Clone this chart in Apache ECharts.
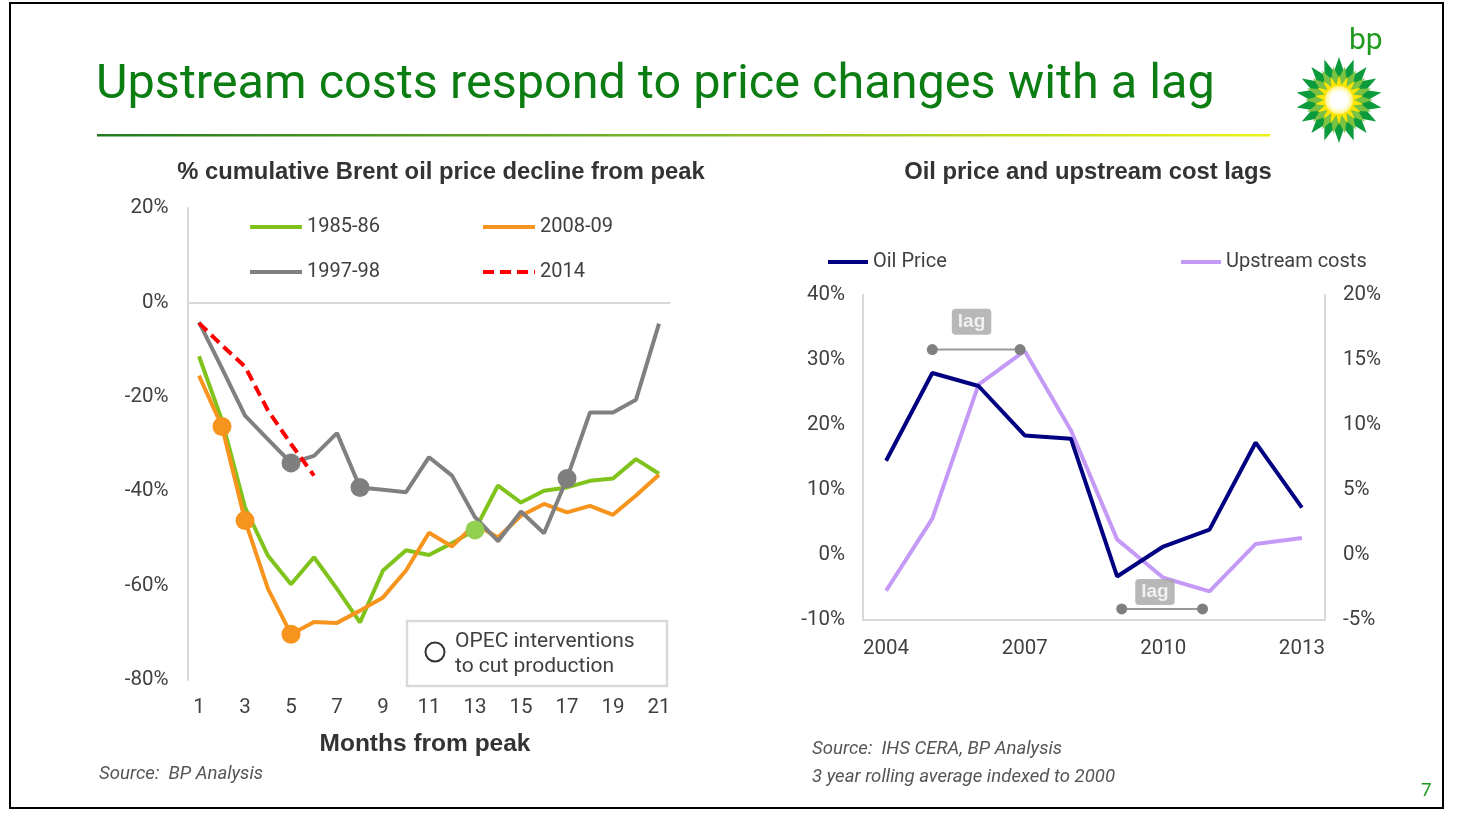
<!DOCTYPE html>
<html>
<head>
<meta charset="utf-8">
<script src="https://cdn.jsdelivr.net/npm/echarts@6/dist/echarts.min.js"></script>
<style>
html, body {margin: 0; padding: 0; background: #fff;}
#main {width: 1461px; height: 816px;}
</style>
</head>
<body>
<div id="main"></div>
<script>
// 左图：从高点起累计跌幅（%）
var months = ["1", "2", "3", "4", "5", "6", "7", "8", "9", "10", "11", "12", "13", "14", "15", "16", "17", "18", "19", "20", "21"];
var brent8586 = [-11.4, -25, -43.4, -53.7, -59.7, -54, -60.7, -67.8, -56.8, -52.5, -53.5, -51, -48.2, -38.8, -42.4, -39.9, -39.2, -37.8, -37.3, -33.2, -36.3];
var brent9798 = [-4.2, -14, -24, -29, -34, -32.5, -27.7, -39.2, -39.7, -40.2, -32.8, -36.7, -45.5, -50.6, -44.3, -48.9, -37.3, -23.3, -23.3, -20.6, -4.5];
var brent0809 = [-15.5, -26.3, -46.2, -60.7, -70.3, -67.7, -67.9, -65.3, -62.5, -56.8, -48.8, -51.7, -47, -49.8, -45.2, -42.7, -44.5, -43.1, -45, -40.9, -36.5];
var brent2014 = [-4.4, -9.1, -13.6, -22.9, -30, -36.7];
// OPEC 减产干预的月份
var opec9798 = [5, 8, 17];
var opec0809 = [2, 3, 5];
var opec8586 = [13];

// 右图：油价与上游成本
var years = ["2004", "2005", "2006", "2007", "2008", "2009", "2010", "2011", "2012", "2013"];
var oilPrice = [14.5, 28, 26, 18.4, 17.9, -3.3, 1.3, 3.9, 17.3, 7.3];
var upstreamCosts = [-2.75, 2.8, 13.1, 15.7, 9.6, 1.2, -1.75, -2.8, 0.85, 1.3];
// lag 标注 [起点年, 终点年, 高度(左轴%)], 文字位置 [年, %]
var lagLines = [[2005, 2006.9, 31.6], [2009.1, 2010.85, -8.3]];
var lagLabels = [[2005.85, 35.9], [2009.82, -5.7]];

var FONT = "Roboto, 'Liberation Sans', sans-serif";
var BOLD = "'Liberation Sans', Arial, sans-serif";
var AXIS = {fontFamily: FONT, fontSize: 20.5, color: "#404040"};
var LEG = {fontFamily: FONT, fontSize: 20, color: "#404040"};

function markers(list, values) {
    return list.map(function (m) {
        return [String(m), values[m - 1]];
    });
}

// bp 标志的星形
function star(cx, cy, n, r1, r2, rot) {
    var pts = [];
    for (var i = 0; i < n * 2; i++) {
        var a = rot + Math.PI * i / n;
        var r = i % 2 == 0 ? r1 : r2;
        pts.push([cx + r * Math.sin(a), cy - r * Math.cos(a)]);
    }
    return pts;
}

var chart = echarts.init(document.getElementById("main"));

var lagSeries = [];
lagLines.forEach(function (l) {
    lagSeries.push({
        type: "line", xAxisIndex: 2, yAxisIndex: 1, silent: true,
        data: [[l[0], l[2]], [l[1], l[2]]],
        symbol: "circle", symbolSize: 11,
        itemStyle: {color: "#7f7f7f"},
        lineStyle: {color: "#9a9a9a", width: 2},
        z: 5
    });
});
lagSeries.push({
    type: "scatter", xAxisIndex: 2, yAxisIndex: 1, silent: true,
    data: lagLabels, symbolSize: 1, itemStyle: {color: "rgba(0,0,0,0)"},
    label: {
        show: true, position: "inside", formatter: "lag",
        backgroundColor: "#a6a6a6", borderRadius: 4, padding: [3, 6, 4, 6],
        color: "#fff", fontWeight: "bold", fontSize: 19, fontFamily: BOLD
    },
    z: 6
});

var legendBase = {padding: 0, itemHeight: 14, textStyle: LEG, itemStyle: {opacity: 0}, lineStyle: {width: 4}};

var option = {
    animation: false,
    grid: [
        {left: 187.5, top: 208, width: 483, height: 472},
        {left: 863, top: 295, width: 462, height: 325}
    ],
    legend: [
        Object.assign({data: ["1985-86", "1997-98"], orient: "vertical", left: 248, top: 217, itemWidth: 52, itemGap: 25}, legendBase),
        Object.assign({data: ["2008-09", "2014"], orient: "vertical", left: 481, top: 217, itemWidth: 52, itemGap: 25}, legendBase),
        Object.assign({data: ["Oil Price"], left: 826, top: 252, itemWidth: 40}, legendBase),
        Object.assign({data: ["Upstream costs"], left: 1179, top: 252, itemWidth: 40}, legendBase)
    ],
    xAxis: [
        {
            gridIndex: 0, type: "category", data: months,
            axisLine: {show: false}, axisTick: {show: false},
            axisLabel: Object.assign({interval: 1, margin: 17}, AXIS)
        },
        {
            gridIndex: 1, type: "category", data: years,
            axisLine: {onZero: false, lineStyle: {color: "#d9d9d9", width: 2}}, axisTick: {show: false},
            axisLabel: Object.assign({interval: 2, margin: 18}, AXIS)
        },
        {gridIndex: 1, type: "value", min: 2003.5, max: 2013.5, show: false}
    ],
    yAxis: [
        {
            gridIndex: 0, type: "value", min: -80, max: 20, interval: 20,
            axisLine: {show: true, lineStyle: {color: "#d9d9d9", width: 2}},
            axisTick: {show: false}, splitLine: {show: false},
            axisLabel: Object.assign({formatter: "{value}%", margin: 19}, AXIS)
        },
        {
            gridIndex: 1, type: "value", min: -10, max: 40, interval: 10, position: "left",
            axisLine: {show: true, lineStyle: {color: "#d9d9d9", width: 2}},
            axisTick: {show: false}, splitLine: {show: false},
            axisLabel: Object.assign({formatter: "{value}%", margin: 18}, AXIS)
        },
        {
            gridIndex: 1, type: "value", min: -5, max: 20, interval: 5, position: "right",
            axisLine: {show: true, lineStyle: {color: "#d9d9d9", width: 2}},
            axisTick: {show: false}, splitLine: {show: false},
            axisLabel: Object.assign({formatter: "{value}%", margin: 18}, AXIS)
        }
    ],
    series: [
        {
            name: "1985-86", type: "line", data: brent8586, symbol: "none",
            lineStyle: {color: "#80c31c", width: 4}, itemStyle: {color: "#80c31c"},
            markLine: {
                silent: true, symbol: "none", label: {show: false},
                lineStyle: {color: "#d9d9d9", width: 2, type: "solid"},
                data: [{yAxis: 0}]
            },
            z: 3
        },
        {
            name: "2008-09", type: "line", data: brent0809, symbol: "none",
            lineStyle: {color: "#f7941d", width: 4}, itemStyle: {color: "#f7941d"}, z: 3
        },
        {
            name: "1997-98", type: "line", data: brent9798, symbol: "none",
            lineStyle: {color: "#808080", width: 4}, itemStyle: {color: "#808080"}, z: 3
        },
        {
            name: "2014", type: "line", data: brent2014, symbol: "none",
            lineStyle: {color: "#ff0000", width: 4, type: [11, 6]}, itemStyle: {color: "#ff0000"}, z: 4
        },
        {type: "scatter", data: markers(opec0809, brent0809), symbolSize: 19, itemStyle: {color: "#f7941d", opacity: 1}, z: 6, silent: true},
        {type: "scatter", data: markers(opec9798, brent9798), symbolSize: 19, itemStyle: {color: "#7f7f7f", opacity: 1}, z: 6, silent: true},
        {type: "scatter", data: markers(opec8586, brent8586), symbolSize: 19, itemStyle: {color: "#92d050", opacity: 1}, z: 6, silent: true},
        {
            name: "Oil Price", type: "line", xAxisIndex: 1, yAxisIndex: 1, data: oilPrice, symbol: "none",
            lineStyle: {color: "#000080", width: 4}, itemStyle: {color: "#000080"}, z: 3
        },
        {
            name: "Upstream costs", type: "line", xAxisIndex: 1, yAxisIndex: 2, data: upstreamCosts, symbol: "none",
            lineStyle: {color: "#c59af7", width: 4}, itemStyle: {color: "#c59af7"}, z: 2
        }
    ].concat(lagSeries),
    graphic: [
        {type: "rect", shape: {x: 10, y: 3, width: 1433, height: 805}, style: {fill: "none", stroke: "#000", lineWidth: 2}, silent: true},
        {type: "text", left: 96, top: 61, style: {text: "Upstream costs respond to price changes with a lag", fill: "#0b7d12", font: "48.6px " + FONT}},
        {
            type: "rect", shape: {x: 97, y: 134, width: 1173, height: 2.5},
            style: {fill: new echarts.graphic.LinearGradient(0, 0, 1, 0, [{offset: 0, color: "#217a1e"}, {offset: 0.5, color: "#7cb82a"}, {offset: 1, color: "#eef21a"}])}
        },
        {type: "polygon", shape: {points: star(1339, 100, 18, 43, 29, 0)}, style: {fill: "#0b9a3c"}},
        {type: "polygon", shape: {points: star(1339, 100, 18, 34, 22, Math.PI / 18)}, style: {fill: "#7cc242"}},
        {type: "polygon", shape: {points: star(1339, 100, 18, 25, 15, 0)}, style: {fill: "#ffe500"}},
        {type: "circle", shape: {cx: 1339, cy: 100, r: 14}, style: {fill: new echarts.graphic.RadialGradient(0.5, 0.5, 0.5, [{offset: 0, color: "#fff"}, {offset: 0.6, color: "#fff"}, {offset: 1, color: "#fff27a"}])}},
        {type: "text", left: 1349, top: 26, style: {text: "bp", fill: "#1f9a1f", font: "30px " + FONT}},
        {type: "text", left: 1421, top: 782, style: {text: "7", fill: "#1f9a1f", font: "19px " + FONT}},
        {type: "text", x: 441, y: 172, style: {text: "% cumulative Brent oil price decline from peak", fill: "#333", font: "bold 23.8px " + BOLD, textAlign: "center", textVerticalAlign: "middle"}},
        {type: "text", x: 1088, y: 172, style: {text: "Oil price and upstream cost lags", fill: "#333", font: "bold 23.8px " + BOLD, textAlign: "center", textVerticalAlign: "middle"}},
        {type: "text", x: 425, y: 744, style: {text: "Months from peak", fill: "#333", font: "bold 24.5px " + BOLD, textAlign: "center", textVerticalAlign: "middle"}},
        {type: "text", left: 99, top: 765, style: {text: "Source:  BP Analysis", fill: "#555", font: "italic 18.6px " + FONT}},
        {type: "text", left: 812, top: 740, style: {text: "Source:  IHS CERA, BP Analysis", fill: "#555", font: "italic 18.6px " + FONT}},
        {type: "text", left: 812, top: 768, style: {text: "3 year rolling average indexed to 2000", fill: "#555", font: "italic 18.6px " + FONT}},
        {type: "rect", shape: {x: 407, y: 621, width: 260, height: 65}, style: {fill: "#fff", stroke: "#d9d9d9", lineWidth: 2.5}, z: 10},
        {type: "circle", shape: {cx: 435, cy: 652, r: 9.5}, style: {fill: "none", stroke: "#333", lineWidth: 2}, z: 11},
        {type: "text", left: 455, top: 629, style: {text: "OPEC interventions\nto cut production", fill: "#404040", font: "21px " + FONT, lineHeight: 25}, z: 11}
    ]
};
chart.setOption(option);
</script>
</body>
</html>
